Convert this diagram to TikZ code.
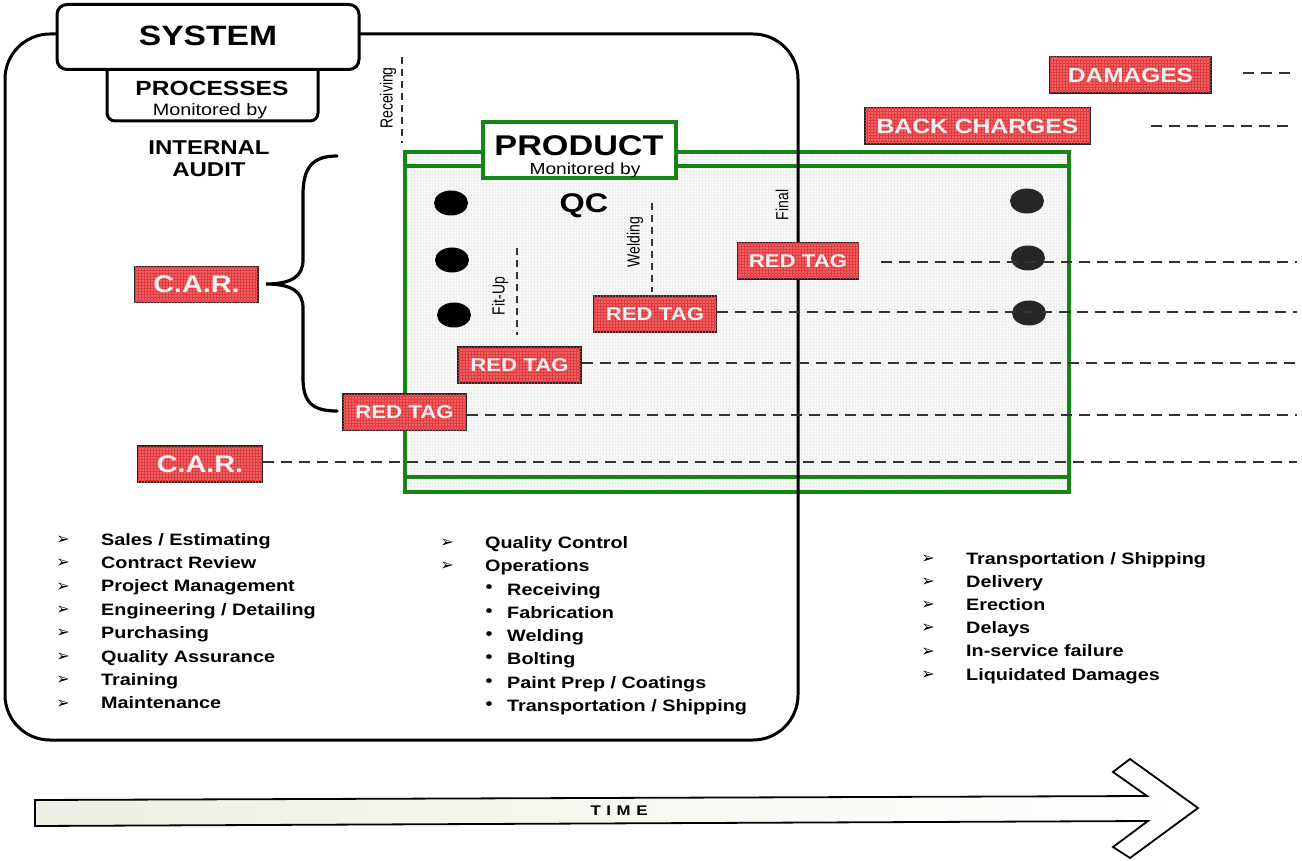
\documentclass[tikz,border=0pt]{standalone}
\usepackage{fontspec}
\setmainfont[FakeStretch=1.2]{Liberation Sans}
\newfontfamily\plainfont{Liberation Sans}
\newfontfamily\symfont{DejaVu Sans}
\usetikzlibrary{patterns,shapes.geometric}
\newcommand\myfs[1]{\fontsize{#1}{#1}\selectfont}
\newcommand\tallrot[1]{\scalebox{1}[1.25]{#1}}
\definecolor{redfill}{RGB}{243,96,98}
\definecolor{redgrid}{RGB}{222,62,66}
\definecolor{prodgreen}{RGB}{22,132,22}
\definecolor{prodfill}{RGB}{249,251,249}
\definecolor{timebeige}{RGB}{238,239,226}
\tikzset{
  redbox/.style={draw=black!85, line width=1.7pt, fill=redfill,
    postaction={pattern=grid, pattern color=redgrid},
    text=white!94!black, inner sep=0pt, minimum height=36pt},
  dashln/.style={draw=black!80, line width=1.3pt, dash pattern=on 11pt off 7pt},
  vdash/.style={draw=black!80, line width=1.3pt, dash pattern=on 7pt off 5pt},
  rotlbl/.style={rotate=90, inner sep=0pt, font=\plainfont\myfs{14}},
  blbl/.style={inner sep=0pt, font=\bfseries\myfs{16.5}, anchor=base west},
  arr/.style={inner sep=0pt, font=\symfont\myfs{16}},
  bul/.style={inner sep=0pt, font=\bfseries\myfs{16.5}},
  qdot/.style={ellipse, fill=black, inner sep=0pt, minimum width=34pt, minimum height=25pt},
  sysline/.style={line width=3pt, draw=black}
}
\begin{document}
\begin{tikzpicture}[x=1pt,y=-1pt]
\useasboundingbox (0,0) rectangle (1302,861);
\fill[white] (0,0) rectangle (1302,861);

% product area
\fill[prodfill] (405,152) rectangle (1069,492);
\fill[pattern=grid, pattern color=black!6] (405,152) rectangle (1069,492);
\draw[prodgreen, line width=3.2pt] (405,152) rectangle (1069,492);
\draw[prodgreen, line width=3.2pt] (405,166) -- (1069,166);
\draw[prodgreen, line width=3.2pt] (405,477) -- (1069,477);

% system outline
\draw[sysline, rounded corners=45pt] (360,34) -- (798,34) -- (798,740) -- (5,740) -- (5,34) -- (60,34);
\draw[sysline, fill=white, rounded corners=8pt] (107,62) -- (107,121) -- (318,121) -- (318,62);
\node[draw, line width=3pt, rounded corners=10pt, fill=white, minimum width=302pt, minimum height=65pt, inner sep=0pt] (sysbox) at (208,37) {};
\node[inner sep=0pt, font=\bfseries\myfs{28}] (systxt) at (208,36) {SYSTEM};
\node[inner sep=0pt, font=\bfseries\myfs{20.5}] (proctxt) at (212,88) {PROCESSES};
\node[inner sep=0pt, font=\myfs{16.5}] (procmon) at (210,111) {Monitored by};
\node[inner sep=0pt, font=\bfseries\myfs{20}] (ia1) at (209,148) {INTERNAL};
\node[inner sep=0pt, font=\bfseries\myfs{20}] (ia2) at (209,170) {AUDIT};

% brace
\draw[line width=3.2pt, line cap=round] (337,156) .. controls (312,156) and (303,168) .. (303,195) -- (303,260) .. controls (303,276) and (292,284) .. (266,284) .. controls (292,284) and (303,292) .. (303,308) -- (303,378) .. controls (303,402) and (312,411) .. (337,411);

% product label
\node[draw=prodgreen, line width=3.2pt, fill=white, minimum width=193pt, minimum height=56pt, inner sep=0pt] (prodbox) at (579.5,150) {};
\node[inner sep=0pt, font=\bfseries\myfs{28.5}] (prodtxt) at (579,146) {PRODUCT};
\node[inner sep=0pt, font=\myfs{16}] (prodmon) at (585,170) {Monitored by};
\node[inner sep=0pt, font=\bfseries\myfs{27}] (qc) at (584,206) {QC};

% dots
\node[qdot] (dl1) at (451,203) {};
\node[qdot] (dl2) at (452,260) {};
\node[qdot] (dl3) at (454,315) {};
\node[qdot, fill=black!85] (dr1) at (1027,201) {};
\node[qdot, fill=black!85] (dr2) at (1028,258) {};
\node[qdot, fill=black!85] (dr3) at (1029,313) {};

% inspection points
\coordinate (rcvA) at (402,57); \coordinate (rcvB) at (402,143);
\draw[vdash] (rcvA) -- (rcvB);
\node[rotlbl] (rcv) at (388,98) {\tallrot{Receiving}};
\coordinate (fitA) at (517,248); \coordinate (fitB) at (517,335);
\draw[vdash] (fitA) -- (fitB);
\node[rotlbl] (fit) at (500,296) {\tallrot{Fit-Up}};
\coordinate (weldA) at (652,203); \coordinate (weldB) at (652,292);
\draw[vdash] (weldA) -- (weldB);
\node[rotlbl] (weld) at (635,242) {\tallrot{Welding}};
\node[rotlbl] (fin) at (782,205) {\tallrot{Final}};

% red boxes
\node[redbox, minimum width=121pt, font=\bfseries\myfs{18.5}] (rt1) at (798,261) {RED TAG};
\node[redbox, minimum width=123pt, font=\bfseries\myfs{18.5}] (rt2) at (655,314) {RED TAG};
\node[redbox, minimum width=123pt, font=\bfseries\myfs{18.5}] (rt3) at (519.5,365) {RED TAG};
\node[redbox, minimum width=123pt, font=\bfseries\myfs{18.5}] (rt4) at (404.5,412) {RED TAG};
\node[redbox, minimum width=123pt, font=\bfseries\myfs{24}] (car1) at (196.5,284.5) {C.A.R.};
\node[redbox, minimum width=124pt, font=\bfseries\myfs{24}] (car2) at (200,464) {C.A.R.};
\node[redbox, minimum width=161pt, font=\bfseries\myfs{20.4}] (dmg) at (1130.5,75) {DAMAGES};
\node[redbox, minimum width=225pt, font=\bfseries\myfs{20.6}] (bc) at (977.5,126) {BACK CHARGES};

% dashed consequence lines
\coordinate (e1) at (1297,262);
\coordinate (e2) at (1297,312);
\coordinate (e3) at (1297,363);
\coordinate (e4) at (1297,415);
\coordinate (e5) at (1297,462);
\coordinate (e6) at (1293,126);
\coordinate (e7) at (1292,73);
\draw[dashln] ([xshift=22pt]rt1.east |- e1) -- (e1);
\draw[dashln] (rt2.east |- e2) -- (e2);
\draw[dashln] (rt3.east |- e3) -- (e3);
\draw[dashln] (rt4.east |- e4) -- (e4);
\draw[dashln] (car2.east |- e5) -- (e5);
\draw[dashln] ([xshift=60pt]bc.east |- e6) -- (e6);
\draw[dashln] ([xshift=31pt]dmg.east |- e7) -- (e7);

% left list
\foreach \t [count=\i] in {Sales / Estimating, Contract Review, Project Management, Engineering / Detailing, Purchasing, Quality Assurance, Training, Maintenance}{
  \node[arr] (la\i) at (63,{540+(\i-1)*23.4}) {➢};
  \node[blbl] (lt\i) at (101,{545+(\i-1)*23.4}) {\t};
}
% middle list
\node[arr] (ma1) at (447,543) {➢};
\node[blbl] (mt1) at (485,548) {Quality Control};
\node[arr] (ma2) at (447,566) {➢};
\node[blbl] (mt2) at (485,571) {Operations};
\foreach \t [count=\i] in {Receiving, Fabrication, Welding, Bolting, Paint Prep / Coatings, Transportation / Shipping}{
  \node[bul] (mb\i) at (489,{589+(\i-1)*23.3}) {•};
  \node[blbl] (ms\i) at (507,{595+(\i-1)*23.3}) {\t};
}
% right list
\foreach \t [count=\i] in {Transportation / Shipping, Delivery, Erection, Delays, In-service failure, Liquidated Damages}{
  \node[arr] (ra\i) at (928,{559+(\i-1)*23.2}) {➢};
  \node[blbl] (rt\i x) at (966,{564+(\i-1)*23.2}) {\t};
}

% time arrow
\draw[line width=1.8pt, left color=timebeige, right color=white] (35,800) -- (1147,796) -- (1113,772) -- (1130,759) -- (1198,808) -- (1130,858) -- (1113,847) -- (1148,821) -- (35,826) -- cycle;
\node[inner sep=0pt, font=\bfseries\myfs{14}\addfontfeatures{LetterSpace=40}] (time) at (619,811) {TIME};
\end{tikzpicture}
\end{document}
